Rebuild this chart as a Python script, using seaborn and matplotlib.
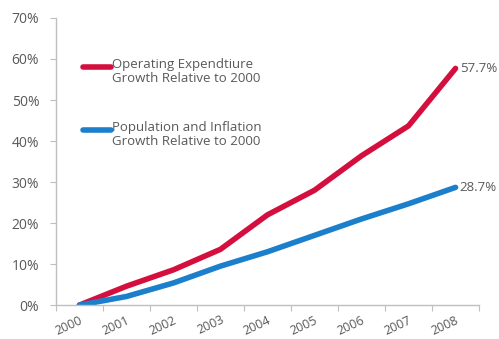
import matplotlib
matplotlib.use("Agg")
import matplotlib.pyplot as plt
from matplotlib.lines import Line2D
import seaborn as sns
import pandas as pd

years = ["2000", "2001", "2002", "2003", "2004", "2005", "2006", "2007", "2008"]
opex_growth = [0.0, 4.6, 8.6, 13.6, 22.0, 28.0, 36.4, 43.7, 57.7]
pop_infl_growth = [0.0, 2.1, 5.4, 9.5, 13.0, 17.0, 21.0, 24.7, 28.7]
series_names = ["Operating Expendtiure\nGrowth Relative to 2000",
                "Population and Inflation\nGrowth Relative to 2000"]
y_ticks = [0, 10, 20, 30, 40, 50, 60, 70]

RED = "#d40f3e"
BLUE = "#1b7fcb"
TXT = "#595959"
AXC = "#bfbfbf"

df = pd.DataFrame({
    "x": list(range(len(years))) * 2,
    "value": opex_growth + pop_infl_growth,
    "series": [series_names[0]] * len(years) + [series_names[1]] * len(years),
})

sns.set_style("white")
plt.rcParams["font.family"] = ["Open Sans", "DejaVu Sans"]

fig = plt.figure(figsize=(4.99, 3.39), dpi=100)
ax = fig.add_axes([0.112, 0.1, 0.848, 0.847])

palette = {series_names[0]: RED, series_names[1]: BLUE}
sns.lineplot(data=df, x="x", y="value", hue="series", palette=palette,
             linewidth=4.0, legend=False, ax=ax, solid_capstyle="round",
             solid_joinstyle="round")

ax.set_xlim(-0.5, len(years) - 0.5)
ax.set_ylim(0, 70)
ax.set_yticks(y_ticks)
ax.set_yticklabels([f"{v}%" for v in y_ticks], color=TXT, fontsize=10)
ax.set_xticks([i - 0.5 for i in range(len(years) + 1)])
ax.set_xticklabels([])
ax.set_xticks(range(len(years)), minor=True)
ax.set_xticklabels(years, minor=True, rotation=25, color=TXT, fontsize=9,
                   ha="right", va="top", rotation_mode="anchor")
ax.tick_params(axis="x", which="minor", length=0, pad=6)
ax.tick_params(axis="x", which="major", length=4, color=AXC, direction="out")
ax.tick_params(axis="y", length=4, color=AXC, direction="out", pad=8)
ax.tick_params(bottom=True, left=True)
ax.set_xlabel("")
ax.set_ylabel("")

for side in ("top", "right"):
    ax.spines[side].set_visible(False)
for side in ("left", "bottom"):
    ax.spines[side].set_color(AXC)
    ax.spines[side].set_linewidth(1.0)

# end-of-line value labels
last = len(years) - 1
ax.annotate(f"{opex_growth[-1]}%", (last, opex_growth[-1]), xytext=(3, 0),
            textcoords="offset points", va="center", ha="left",
            color=TXT, fontsize=9.5, annotation_clip=False)
ax.annotate(f"{pop_infl_growth[-1]}%", (last, pop_infl_growth[-1]), xytext=(3, 0),
            textcoords="offset points", va="center", ha="left",
            color=TXT, fontsize=9.5, annotation_clip=False)

# legend keys drawn beside two-line labels
for ypos, col, name in [(0.829, RED, series_names[0]), (0.610, BLUE, series_names[1])]:
    ax.add_line(Line2D([0.064, 0.130], [ypos, ypos], transform=ax.transAxes,
                       color=col, linewidth=4.0, solid_capstyle="round"))
    ax.text(0.132, ypos + 0.031, name, transform=ax.transAxes, va="top",
            ha="left", color=TXT, fontsize=9.5, linespacing=1.1)

fig.savefig("out.png", dpi=100)
